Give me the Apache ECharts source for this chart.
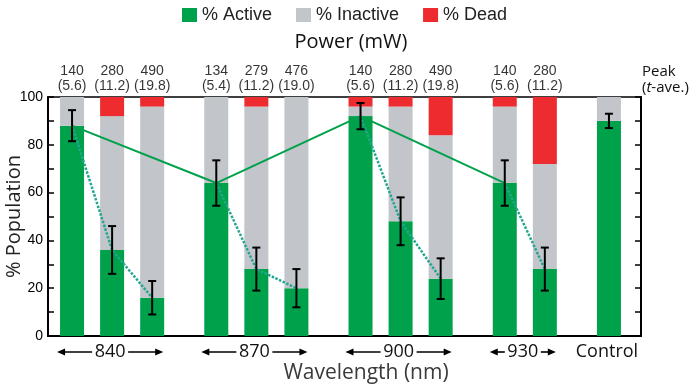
<!DOCTYPE html>
<html><head><meta charset="utf-8">
<script src="https://cdn.jsdelivr.net/npm/echarts@6/dist/echarts.min.js"></script>
<style>html,body{margin:0;padding:0;background:#fff}#c{width:696px;height:386px}</style>
</head><body><div id="c"></div>
<script>
// ---- data ----
// bars sit on a fine category grid (slot index) so the groups can be spaced apart
const slotCount = 75;
const barSlot = [3, 8, 13, 21, 26, 31, 39, 44, 49, 57, 62, 70];
const active = [88, 36, 16, 64, 28, 20, 92, 48, 24, 64, 28, 90];
const inactive = [12, 56, 80, 36, 68, 80, 4, 48, 60, 32, 44, 10];
const dead = [0, 8, 4, 0, 4, 0, 4, 4, 16, 4, 28, 0];
const errs = [6.5, 10, 7, 9.5, 9, 8, 5.5, 10, 8.5, 9.5, 9, 3];
const powerPeak = ['140', '280', '490', '134', '279', '476', '140', '280', '490', '140', '280', ''];
const powerAve = ['5.6', '11.2', '19.8', '5.4', '11.2', '19.0', '5.6', '11.2', '19.8', '5.6', '11.2', ''];
const wavelengths = ['840', '870', '900', '930'];
const groupRanges = [[0, 2], [3, 5], [6, 8], [9, 10]];
const controlIndex = 11;
const controlLabel = 'Control';
const solidIdx = [0, 3, 6, 9];
const dottedIdx = [[0, 1, 2], [3, 4, 5], [6, 7, 8], [9, 10]];
const seriesNames = ['% Active', '% Inactive', '% Dead'];
const yTicks = [0, 20, 40, 60, 80, 100];

const GREEN = '#00a14b', GRAY = '#c2c5ca', RED = '#ee2b2f', TEAL = '#22a690';
const categories = Array.from({length: slotCount}, (_, i) => String(i));
function spread(arr) {
  const out = new Array(slotCount).fill('-');
  barSlot.forEach((s, i) => { out[s] = arr[i]; });
  return out;
}

const chart = echarts.init(document.getElementById('c'), null, {renderer: 'canvas'});
const series = [
  {name: seriesNames[0], type: 'bar', stack: 's', barWidth: 24, data: spread(active), itemStyle: {color: GREEN}},
  {name: seriesNames[1], type: 'bar', stack: 's', barWidth: 24, data: spread(inactive), itemStyle: {color: GRAY}},
  {name: seriesNames[2], type: 'bar', stack: 's', barWidth: 24, data: spread(dead), itemStyle: {color: RED}},
  {type: 'line', data: solidIdx.map(i => [barSlot[i], active[i]]), symbol: 'none', lineStyle: {color: GREEN, width: 2}, z: 3}
];
dottedIdx.forEach(g => series.push({type: 'line', data: g.map(i => [barSlot[i], active[i]]), symbol: 'none', lineStyle: {color: TEAL, width: 2.5, type: [2.5, 1.5]}, z: 3}));
series.push({
  type: 'custom', z: 5,
  data: barSlot.map((s, i) => [s, active[i], errs[i]]),
  renderItem: (params, api) => {
    const x = api.value(0), y = api.value(1), e = api.value(2);
    const top = api.coord([x, y + e]), bot = api.coord([x, y - e]);
    const w = 4;
    const st = {stroke: '#000', lineWidth: 2};
    return {type: 'group', children: [
      {type: 'line', shape: {x1: top[0], y1: top[1], x2: bot[0], y2: bot[1]}, style: st},
      {type: 'line', shape: {x1: top[0] - w, y1: top[1], x2: top[0] + w, y2: top[1]}, style: st},
      {type: 'line', shape: {x1: bot[0] - w, y1: bot[1], x2: bot[0] + w, y2: bot[1]}, style: st}
    ]};
  }
});
series.push({
  type: 'scatter', symbolSize: 1, itemStyle: {color: 'transparent'}, z: 6,
  data: barSlot.map((s, i) => [s, 100, i]).filter(d => powerPeak[d[2]] !== ''),
  label: {show: true, position: 'top', distance: 3, color: '#000', fontFamily: 'Liberation Sans', fontSize: 14, lineHeight: 15,
    formatter: p => powerPeak[p.value[2]] + '\n(' + powerAve[p.value[2]] + ')'}
});

chart.setOption({
  animation: false,
  grid: {left: 48, right: 55, top: 97, bottom: 50, show: true, borderColor: '#000', borderWidth: 1.5,
    containLabel: false, outerBoundsMode: 'none'},
  legend: {data: seriesNames, left: 177, top: 1, itemWidth: 15, itemHeight: 14, itemGap: 24,
    textStyle: {fontFamily: 'Liberation Sans', fontSize: 18, color: '#222'}, icon: 'rect'},
  xAxis: {type: 'category', data: categories, boundaryGap: false, axisLabel: {show: false}, axisTick: {show: false}, splitLine: {show: false},
    axisLine: {lineStyle: {color: '#000', width: 2}}},
  yAxis: [
    {type: 'value', min: 0, max: 100, interval: 10, splitLine: {show: false},
      axisLine: {show: true, lineStyle: {color: '#000', width: 2}},
      axisTick: {show: true, inside: true, length: 6, lineStyle: {color: '#000', width: 1.5}},
      axisLabel: {color: '#000', fontFamily: 'Liberation Sans', fontSize: 14, margin: 5,
        formatter: v => yTicks.indexOf(v) >= 0 ? String(v) : ''},
      name: '% Population', nameLocation: 'middle', nameGap: 24, nameMoveOverlap: false,
      nameTextStyle: {fontFamily: 'Open Sans', fontSize: 20, color: '#222'}},
    {type: 'value', min: 0, max: 100, interval: 10, position: 'right', splitLine: {show: false},
      axisLine: {show: true, lineStyle: {color: '#000', width: 2}},
      axisTick: {show: true, inside: true, length: 6, lineStyle: {color: '#000', width: 1.5}},
      axisLabel: {show: false}}
  ],
  series: series
});

// annotations positioned through the chart's own scales
const px = s => chart.convertToPixel({gridIndex: 0}, [s, 0]);
const graphics = [];
const yArrow = 352;
const half = 12;
const lineStyle = {stroke: '#000', lineWidth: 1.6};
function arrowHead(x, dir) {
  return {type: 'polygon', shape: {points: [[x, yArrow], [x - dir * 8, yArrow - 3.5], [x - dir * 8, yArrow + 3.5]]}, style: {fill: '#000'}};
}
groupRanges.forEach((r, gi) => {
  const l = px(barSlot[r[0]])[0] - half - 3;
  const rr = px(barSlot[r[1]])[0] + half - 1;
  const c = (l + rr) / 2;
  const tw = 18;
  graphics.push({type: 'text', x: c, y: yArrow, style: {text: wavelengths[gi], fontFamily: 'Open Sans', fontSize: 18, fill: '#111', align: 'center', verticalAlign: 'middle'}});
  graphics.push({type: 'line', shape: {x1: l + 2, y1: yArrow, x2: c - tw, y2: yArrow}, style: lineStyle});
  graphics.push({type: 'line', shape: {x1: c + tw, y1: yArrow, x2: rr - 2, y2: yArrow}, style: lineStyle});
  graphics.push(arrowHead(l, -1));
  graphics.push(arrowHead(rr, 1));
});
graphics.push({type: 'text', x: px(barSlot[controlIndex])[0] - 2, y: yArrow, style: {text: controlLabel, fontFamily: 'Open Sans', fontSize: 18, fill: '#111', align: 'center', verticalAlign: 'middle'}});
graphics.push({type: 'text', x: 366, y: 373, style: {text: 'Wavelength (nm)', fontFamily: 'Open Sans', fontSize: 21, fill: '#3a3a3a', align: 'center', verticalAlign: 'middle'}});
graphics.push({type: 'text', x: 351, y: 42, style: {text: 'Power (mW)', fontFamily: 'Open Sans', fontSize: 20, fill: '#111', align: 'center', verticalAlign: 'middle'}});
graphics.push({type: 'text', x: 642, y: 80, style: {
  text: '{a|Peak}\n{a|(}{i|t}{a|-ave.)}', align: 'left', verticalAlign: 'middle',
  rich: {a: {fontFamily: 'Open Sans', fontSize: 15, lineHeight: 16, fill: '#111'}, i: {fontFamily: 'Open Sans', fontStyle: 'italic', fontSize: 15, lineHeight: 16, fill: '#111'}}}});
chart.setOption({graphic: graphics});
</script>
</body></html>
